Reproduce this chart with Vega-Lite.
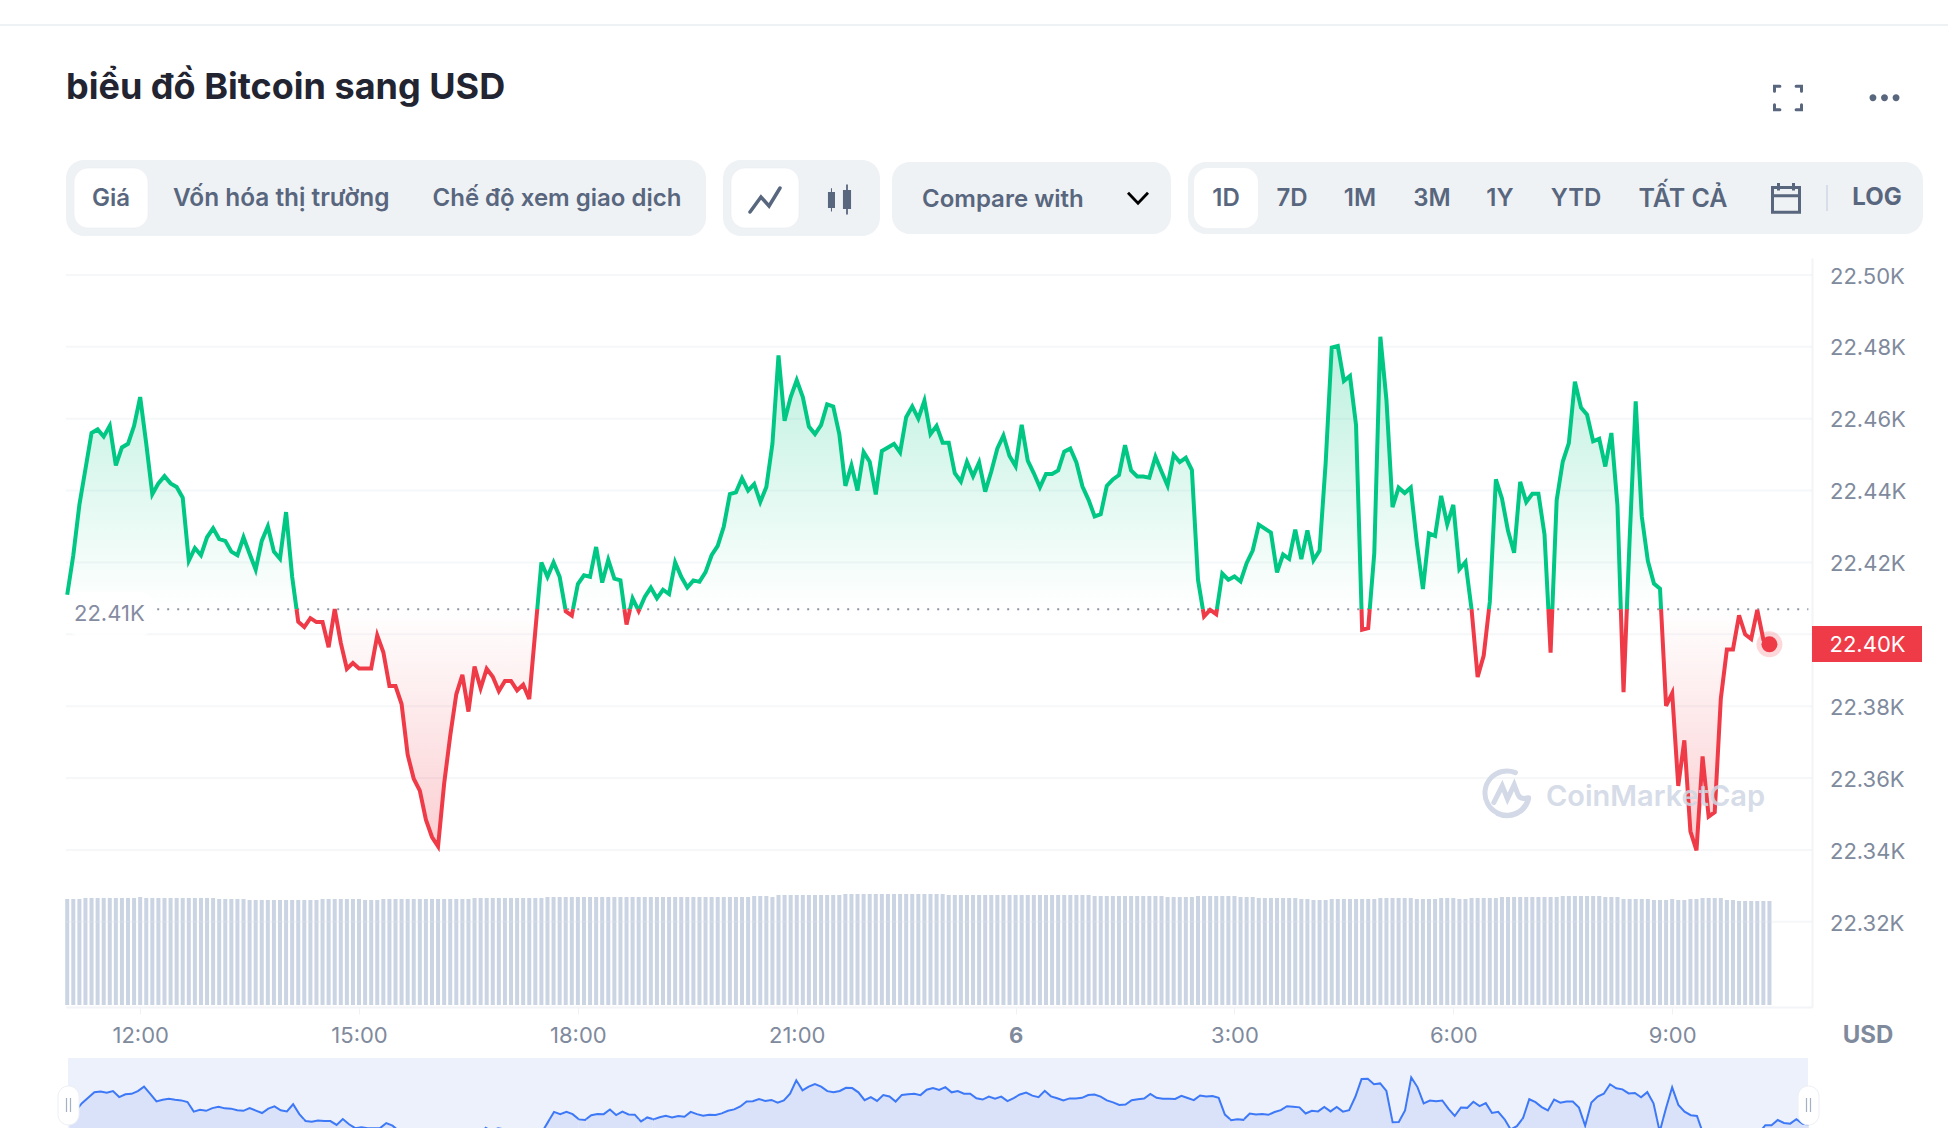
{"$schema":"https://vega.github.io/schema/vega-lite/v6.json","width":1948,"height":1128,"padding":0,"autosize":{"type":"none"},"background":"#ffffff",
"title":{"text":"biểu đồ Bitcoin sang USD","anchor":"start","frame":"group","font":"Inter","fontSize":36,"fontWeight":700,"color":"#222531","dx":66,"dy":135,"offset":0,"baseline":"alphabetic"},
"config":{"view":{"stroke":null},"text":{"font":"Inter"}},
"datasets":{"btc":[
{"t":"2022-08-05T11:00","up":22411,"vol":106},{"t":"2022-08-05T11:05","up":22422,"vol":106},{"t":"2022-08-05T11:10","up":22436,"vol":106},{"t":"2022-08-05T11:15","up":22446,"vol":107},{"t":"2022-08-05T11:20","up":22456,"vol":107},{"t":"2022-08-05T11:25","up":22457,"vol":107},{"t":"2022-08-05T11:30","up":22455,"vol":107},{"t":"2022-08-05T11:35","up":22458,"vol":107},{"t":"2022-08-05T11:40","up":22447,"vol":107},{"t":"2022-08-05T11:45","up":22452,"vol":107},{"t":"2022-08-05T11:50","up":22453,"vol":107},{"t":"2022-08-05T11:55","up":22458,"vol":107},
{"t":"2022-08-05T12:00","up":22466,"vol":108},{"t":"2022-08-05T12:05","up":22453,"vol":107},{"t":"2022-08-05T12:10","up":22439,"vol":107},{"t":"2022-08-05T12:15","up":22442,"vol":107},{"t":"2022-08-05T12:20","up":22444,"vol":107},{"t":"2022-08-05T12:25","up":22442,"vol":107},{"t":"2022-08-05T12:30","up":22441,"vol":107},{"t":"2022-08-05T12:35","up":22438,"vol":107},{"t":"2022-08-05T12:40","up":22420.5,"vol":107},{"t":"2022-08-05T12:45","up":22424,"vol":107},{"t":"2022-08-05T12:50","up":22422,"vol":107},{"t":"2022-08-05T12:55","up":22427,"vol":107},
{"t":"2022-08-05T13:00","up":22429.5,"vol":107},{"t":"2022-08-05T13:05","up":22426.5,"vol":106},{"t":"2022-08-05T13:10","up":22426,"vol":106},{"t":"2022-08-05T13:15","up":22423,"vol":106},{"t":"2022-08-05T13:20","up":22422,"vol":106},{"t":"2022-08-05T13:25","up":22427,"vol":106},{"t":"2022-08-05T13:30","up":22422.4,"vol":105},{"t":"2022-08-05T13:35","up":22418,"vol":105},{"t":"2022-08-05T13:40","up":22426,"vol":105},{"t":"2022-08-05T13:45","up":22430,"vol":105},{"t":"2022-08-05T13:50","up":22423,"vol":105},{"t":"2022-08-05T13:55","up":22421,"vol":105},
{"t":"2022-08-05T14:00","up":22434,"vol":105},{"t":"2022-08-05T14:05","up":22416,"vol":105},{"t":"2022-08-05T14:08:36","up":22407,"down":22407},{"t":"2022-08-05T14:10","down":22403.5,"vol":105},{"t":"2022-08-05T14:15","down":22402,"vol":105},{"t":"2022-08-05T14:20","down":22404.5,"vol":105},{"t":"2022-08-05T14:25","down":22403.4,"vol":105},{"t":"2022-08-05T14:30","down":22403.4,"vol":106},{"t":"2022-08-05T14:35","down":22396.4,"vol":106},{"t":"2022-08-05T14:40","down":22407,"vol":106},{"t":"2022-08-05T14:45","down":22397.6,"vol":106},{"t":"2022-08-05T14:50","down":22390.4,"vol":106},{"t":"2022-08-05T14:55","down":22392,"vol":106},
{"t":"2022-08-05T15:00","down":22390.5,"vol":106},{"t":"2022-08-05T15:05","down":22390.5,"vol":105},{"t":"2022-08-05T15:10","down":22390.5,"vol":105},{"t":"2022-08-05T15:15","down":22399.7,"vol":105},{"t":"2022-08-05T15:20","down":22395,"vol":106},{"t":"2022-08-05T15:25","down":22385.6,"vol":106},{"t":"2022-08-05T15:30","down":22385.6,"vol":106},{"t":"2022-08-05T15:35","down":22380.6,"vol":106},{"t":"2022-08-05T15:40","down":22366.5,"vol":106},{"t":"2022-08-05T15:45","down":22359.8,"vol":106},{"t":"2022-08-05T15:50","down":22356.5,"vol":106},{"t":"2022-08-05T15:55","down":22348.4,"vol":106},
{"t":"2022-08-05T16:00","down":22343.6,"vol":106},{"t":"2022-08-05T16:05","down":22341,"vol":106},{"t":"2022-08-05T16:10","down":22358.4,"vol":106},{"t":"2022-08-05T16:15","down":22371.8,"vol":106},{"t":"2022-08-05T16:20","down":22383.3,"vol":106},{"t":"2022-08-05T16:25","down":22388.7,"vol":106},{"t":"2022-08-05T16:30","down":22378.5,"vol":106},{"t":"2022-08-05T16:35","down":22391,"vol":107},{"t":"2022-08-05T16:40","down":22385,"vol":107},{"t":"2022-08-05T16:45","down":22390.4,"vol":107},{"t":"2022-08-05T16:50","down":22388.2,"vol":107},{"t":"2022-08-05T16:55","down":22384.2,"vol":107},
{"t":"2022-08-05T17:00","down":22387,"vol":107},{"t":"2022-08-05T17:05","down":22387,"vol":107},{"t":"2022-08-05T17:10","down":22384.4,"vol":107},{"t":"2022-08-05T17:15","down":22386,"vol":107},{"t":"2022-08-05T17:20","down":22382,"vol":107},{"t":"2022-08-05T17:25","down":22401,"vol":107},{"t":"2022-08-05T17:26:35","up":22407,"down":22407},{"t":"2022-08-05T17:30","up":22420,"vol":107},{"t":"2022-08-05T17:35","up":22416,"vol":108},{"t":"2022-08-05T17:40","up":22420,"vol":108},{"t":"2022-08-05T17:45","up":22416,"vol":108},{"t":"2022-08-05T17:49:42","up":22407,"down":22407},{"t":"2022-08-05T17:50","down":22406.4,"vol":108},{"t":"2022-08-05T17:55","down":22405.2,"vol":108},{"t":"2022-08-05T17:56","up":22407,"down":22407},
{"t":"2022-08-05T18:00","up":22414,"vol":108},{"t":"2022-08-05T18:05","up":22416.4,"vol":108},{"t":"2022-08-05T18:10","up":22416,"vol":108},{"t":"2022-08-05T18:15","up":22424.3,"vol":108},{"t":"2022-08-05T18:20","up":22414.4,"vol":108},{"t":"2022-08-05T18:25","up":22420.7,"vol":108},{"t":"2022-08-05T18:30","up":22415.5,"vol":108},{"t":"2022-08-05T18:35","up":22415,"vol":108},{"t":"2022-08-05T18:38:15","up":22407,"down":22407},{"t":"2022-08-05T18:40","down":22402.7,"vol":108},{"t":"2022-08-05T18:42:57","up":22407,"down":22407},{"t":"2022-08-05T18:45","up":22410,"vol":108},{"t":"2022-08-05T18:49:18","up":22407,"down":22407},{"t":"2022-08-05T18:50","down":22406.5,"vol":108},{"t":"2022-08-05T18:50:39","up":22407,"down":22407},{"t":"2022-08-05T18:55","up":22410.4,"vol":108},
{"t":"2022-08-05T19:00","up":22413,"vol":108},{"t":"2022-08-05T19:05","up":22410,"vol":108},{"t":"2022-08-05T19:10","up":22412.4,"vol":108},{"t":"2022-08-05T19:15","up":22411.2,"vol":108},{"t":"2022-08-05T19:20","up":22420,"vol":108},{"t":"2022-08-05T19:25","up":22416,"vol":108},{"t":"2022-08-05T19:30","up":22413,"vol":108},{"t":"2022-08-05T19:35","up":22415,"vol":108},{"t":"2022-08-05T19:40","up":22414.6,"vol":108},{"t":"2022-08-05T19:45","up":22417.3,"vol":108},{"t":"2022-08-05T19:50","up":22422,"vol":108},{"t":"2022-08-05T19:55","up":22424.6,"vol":108},
{"t":"2022-08-05T20:00","up":22430,"vol":108},{"t":"2022-08-05T20:05","up":22439,"vol":108},{"t":"2022-08-05T20:10","up":22439.5,"vol":108},{"t":"2022-08-05T20:15","up":22443.4,"vol":108},{"t":"2022-08-05T20:20","up":22440,"vol":108},{"t":"2022-08-05T20:25","up":22441.8,"vol":109},{"t":"2022-08-05T20:30","up":22436.8,"vol":109},{"t":"2022-08-05T20:35","up":22441,"vol":109},{"t":"2022-08-05T20:40","up":22453,"vol":108},{"t":"2022-08-05T20:45","up":22477.6,"vol":110},{"t":"2022-08-05T20:50","up":22459.4,"vol":110},{"t":"2022-08-05T20:55","up":22466,"vol":110},
{"t":"2022-08-05T21:00","up":22470.7,"vol":110},{"t":"2022-08-05T21:05","up":22466,"vol":110},{"t":"2022-08-05T21:10","up":22457.8,"vol":110},{"t":"2022-08-05T21:15","up":22455.7,"vol":110},{"t":"2022-08-05T21:20","up":22458.2,"vol":110},{"t":"2022-08-05T21:25","up":22464,"vol":110},{"t":"2022-08-05T21:30","up":22463.4,"vol":110},{"t":"2022-08-05T21:35","up":22455.7,"vol":110},{"t":"2022-08-05T21:40","up":22441.3,"vol":111},{"t":"2022-08-05T21:45","up":22447,"vol":111},{"t":"2022-08-05T21:50","up":22440,"vol":111},{"t":"2022-08-05T21:55","up":22450.7,"vol":111},
{"t":"2022-08-05T22:00","up":22448,"vol":111},{"t":"2022-08-05T22:05","up":22438.9,"vol":111},{"t":"2022-08-05T22:10","up":22451,"vol":111},{"t":"2022-08-05T22:15","up":22452,"vol":111},{"t":"2022-08-05T22:20","up":22453,"vol":111},{"t":"2022-08-05T22:25","up":22450.6,"vol":111},{"t":"2022-08-05T22:30","up":22460.4,"vol":111},{"t":"2022-08-05T22:35","up":22463.4,"vol":111},{"t":"2022-08-05T22:40","up":22460,"vol":111},{"t":"2022-08-05T22:45","up":22465,"vol":111},{"t":"2022-08-05T22:50","up":22455.7,"vol":111},{"t":"2022-08-05T22:55","up":22458,"vol":111},
{"t":"2022-08-05T23:00","up":22453.3,"vol":111},{"t":"2022-08-05T23:05","up":22453.3,"vol":110},{"t":"2022-08-05T23:10","up":22444.8,"vol":110},{"t":"2022-08-05T23:15","up":22442.5,"vol":110},{"t":"2022-08-05T23:20","up":22448,"vol":110},{"t":"2022-08-05T23:25","up":22444,"vol":110},{"t":"2022-08-05T23:30","up":22447.8,"vol":110},{"t":"2022-08-05T23:35","up":22439.7,"vol":110},{"t":"2022-08-05T23:40","up":22445.3,"vol":110},{"t":"2022-08-05T23:45","up":22451.7,"vol":110},{"t":"2022-08-05T23:50","up":22455.3,"vol":110},{"t":"2022-08-05T23:55","up":22449.6,"vol":110},
{"t":"2022-08-06T00:00","up":22446.8,"vol":110},{"t":"2022-08-06T00:05","up":22458.3,"vol":110},{"t":"2022-08-06T00:10","up":22448.3,"vol":110},{"t":"2022-08-06T00:15","up":22444.8,"vol":110},{"t":"2022-08-06T00:20","up":22440.9,"vol":110},{"t":"2022-08-06T00:25","up":22444.6,"vol":110},{"t":"2022-08-06T00:30","up":22444.6,"vol":110},{"t":"2022-08-06T00:35","up":22445.6,"vol":110},{"t":"2022-08-06T00:40","up":22450.8,"vol":110},{"t":"2022-08-06T00:45","up":22451.7,"vol":110},{"t":"2022-08-06T00:50","up":22447.8,"vol":110},{"t":"2022-08-06T00:55","up":22441.1,"vol":110},
{"t":"2022-08-06T01:00","up":22437.4,"vol":110},{"t":"2022-08-06T01:05","up":22432.8,"vol":109},{"t":"2022-08-06T01:10","up":22433.4,"vol":109},{"t":"2022-08-06T01:15","up":22441.3,"vol":109},{"t":"2022-08-06T01:20","up":22443.1,"vol":109},{"t":"2022-08-06T01:25","up":22444.3,"vol":109},{"t":"2022-08-06T01:30","up":22452.6,"vol":109},{"t":"2022-08-06T01:35","up":22445.6,"vol":109},{"t":"2022-08-06T01:40","up":22443.9,"vol":109},{"t":"2022-08-06T01:45","up":22443.9,"vol":109},{"t":"2022-08-06T01:50","up":22443.6,"vol":109},{"t":"2022-08-06T01:55","up":22449.4,"vol":109},
{"t":"2022-08-06T02:00","up":22445.3,"vol":109},{"t":"2022-08-06T02:05","up":22441.4,"vol":108},{"t":"2022-08-06T02:10","up":22449.9,"vol":108},{"t":"2022-08-06T02:15","up":22447.9,"vol":108},{"t":"2022-08-06T02:20","up":22449.1,"vol":108},{"t":"2022-08-06T02:25","up":22445.7,"vol":108},{"t":"2022-08-06T02:30","up":22415.2,"vol":109},{"t":"2022-08-06T02:34","up":22407,"down":22407},{"t":"2022-08-06T02:35","down":22405,"vol":109},{"t":"2022-08-06T02:40","down":22406.8,"vol":109},{"t":"2022-08-06T02:45","down":22405.6,"vol":109},{"t":"2022-08-06T02:45:36","up":22407,"down":22407},{"t":"2022-08-06T02:50","up":22416.9,"vol":109},{"t":"2022-08-06T02:55","up":22415.2,"vol":109},
{"t":"2022-08-06T03:00","up":22416.1,"vol":109},{"t":"2022-08-06T03:05","up":22414.7,"vol":108},{"t":"2022-08-06T03:10","up":22419.8,"vol":108},{"t":"2022-08-06T03:15","up":22423.3,"vol":108},{"t":"2022-08-06T03:20","up":22430.5,"vol":107},{"t":"2022-08-06T03:25","up":22429.4,"vol":107},{"t":"2022-08-06T03:30","up":22428.3,"vol":107},{"t":"2022-08-06T03:35","up":22417.2,"vol":107},{"t":"2022-08-06T03:40","up":22422.2,"vol":107},{"t":"2022-08-06T03:45","up":22421,"vol":107},{"t":"2022-08-06T03:50","up":22429.1,"vol":107},{"t":"2022-08-06T03:55","up":22420.9,"vol":106},
{"t":"2022-08-06T04:00","up":22428.9,"vol":106},{"t":"2022-08-06T04:05","up":22420.6,"vol":105},{"t":"2022-08-06T04:10","up":22423.3,"vol":105},{"t":"2022-08-06T04:15","up":22447.6,"vol":105},{"t":"2022-08-06T04:20","up":22479.8,"vol":106},{"t":"2022-08-06T04:25","up":22480.2,"vol":106},{"t":"2022-08-06T04:30","up":22470.5,"vol":106},{"t":"2022-08-06T04:35","up":22471.9,"vol":106},{"t":"2022-08-06T04:40","up":22458.2,"vol":106},{"t":"2022-08-06T04:44:30","up":22407,"down":22407},{"t":"2022-08-06T04:45","down":22401.3,"vol":106},{"t":"2022-08-06T04:50","down":22401.7,"vol":106},{"t":"2022-08-06T04:51:16","up":22407,"down":22407},{"t":"2022-08-06T04:55","up":22422.6,"vol":106},
{"t":"2022-08-06T05:00","up":22482.8,"vol":107},{"t":"2022-08-06T05:05","up":22465.2,"vol":107},{"t":"2022-08-06T05:10","up":22435.4,"vol":107},{"t":"2022-08-06T05:15","up":22440.8,"vol":107},{"t":"2022-08-06T05:20","up":22439.3,"vol":107},{"t":"2022-08-06T05:25","up":22440.8,"vol":107},{"t":"2022-08-06T05:30","up":22425.4,"vol":106},{"t":"2022-08-06T05:35","up":22412.6,"vol":106},{"t":"2022-08-06T05:40","up":22428.1,"vol":106},{"t":"2022-08-06T05:45","up":22427.4,"vol":106},{"t":"2022-08-06T05:50","up":22438.5,"vol":107},{"t":"2022-08-06T05:55","up":22430.6,"vol":107},
{"t":"2022-08-06T06:00","up":22436,"vol":107},{"t":"2022-08-06T06:05","up":22418.1,"vol":106},{"t":"2022-08-06T06:10","up":22420.1,"vol":106},{"t":"2022-08-06T06:15","up":22407,"down":22407,"vol":107},{"t":"2022-08-06T06:20","down":22388.1,"vol":107},{"t":"2022-08-06T06:25","down":22394.1,"vol":107},{"t":"2022-08-06T06:29:20","up":22407,"down":22407},{"t":"2022-08-06T06:30","up":22409,"vol":107},{"t":"2022-08-06T06:35","up":22443.1,"vol":107},{"t":"2022-08-06T06:40","up":22437.8,"vol":108},{"t":"2022-08-06T06:45","up":22428.8,"vol":108},{"t":"2022-08-06T06:50","up":22422.7,"vol":108},{"t":"2022-08-06T06:55","up":22442.4,"vol":108},
{"t":"2022-08-06T07:00","up":22436.8,"vol":108},{"t":"2022-08-06T07:05","up":22439.1,"vol":108},{"t":"2022-08-06T07:10","up":22439.1,"vol":108},{"t":"2022-08-06T07:15","up":22427.8,"vol":108},{"t":"2022-08-06T07:18:10","up":22407,"down":22407},{"t":"2022-08-06T07:20","down":22394.9,"vol":108},{"t":"2022-08-06T07:21:26","up":22407,"down":22407},{"t":"2022-08-06T07:25","up":22437.3,"vol":108},{"t":"2022-08-06T07:30","up":22448,"vol":109},{"t":"2022-08-06T07:35","up":22453.2,"vol":109},{"t":"2022-08-06T07:40","up":22470.3,"vol":109},{"t":"2022-08-06T07:45","up":22463.1,"vol":109},{"t":"2022-08-06T07:50","up":22461.1,"vol":109},{"t":"2022-08-06T07:55","up":22453.7,"vol":109},
{"t":"2022-08-06T08:00","up":22454.4,"vol":109},{"t":"2022-08-06T08:05","up":22446.7,"vol":108},{"t":"2022-08-06T08:10","up":22456,"vol":108},{"t":"2022-08-06T08:15","up":22435.8,"vol":108},{"t":"2022-08-06T08:17:46","up":22407,"down":22407},{"t":"2022-08-06T08:20","down":22383.9,"vol":106},{"t":"2022-08-06T08:22:43","up":22407,"down":22407},{"t":"2022-08-06T08:25","up":22426.3,"vol":106},{"t":"2022-08-06T08:30","up":22464.8,"vol":106},{"t":"2022-08-06T08:35","up":22432.8,"vol":106},{"t":"2022-08-06T08:40","up":22420.4,"vol":106},{"t":"2022-08-06T08:45","up":22414.1,"vol":105},{"t":"2022-08-06T08:50","up":22412.7,"vol":105},{"t":"2022-08-06T08:50:52","up":22407,"down":22407},{"t":"2022-08-06T08:55","down":22380.1,"vol":105},
{"t":"2022-08-06T09:00","down":22383.6,"vol":106},{"t":"2022-08-06T09:05","down":22357.8,"vol":105},{"t":"2022-08-06T09:10","down":22370.5,"vol":105},{"t":"2022-08-06T09:15","down":22345.2,"vol":106},{"t":"2022-08-06T09:20","down":22339.9,"vol":106},{"t":"2022-08-06T09:25","down":22366,"vol":107},{"t":"2022-08-06T09:30","down":22349.3,"vol":107},{"t":"2022-08-06T09:35","down":22350.5,"vol":107},{"t":"2022-08-06T09:40","down":22382.1,"vol":107},{"t":"2022-08-06T09:45","down":22395.8,"vol":105},{"t":"2022-08-06T09:50","down":22395.8,"vol":105},{"t":"2022-08-06T09:55","down":22405.3,"vol":104},
{"t":"2022-08-06T10:00","down":22400,"vol":104},{"t":"2022-08-06T10:05","down":22398.7,"vol":104},{"t":"2022-08-06T10:10","down":22406.8,"vol":104},{"t":"2022-08-06T10:15","down":22398.5,"vol":104},{"t":"2022-08-06T10:20","down":22397.2,"vol":104}
],"grid":[{"price":22320},{"price":22340},{"price":22360},{"price":22380},{"price":22400},{"price":22420},{"price":22440},{"price":22460},{"price":22480},{"price":22500}],"last":[{"t":"2022-08-06T10:20","price":22397.2}]},
"layer":[
{"layer":[
{"mark":{"type":"rule","color":"#eff2f5","strokeWidth":2},"data":{"values":[{}]},"encoding":{"x":{"datum":0,"type":"quantitative","scale":{"domain":[0,1948],"nice":false},"axis":null},"x2":{"datum":1948},"y":{"datum":25,"type":"quantitative","scale":{"domain":[1128,0],"nice":false},"axis":null}}},
{"data":{"values":[{"pill":"metric"}]},"mark":{"type":"rect","fill":"#eff2f5","cornerRadius":18},"encoding":{"x":{"datum":66,"type":"quantitative","scale":{"domain":[0,1948],"nice":false},"axis":null},"x2":{"datum":706},"y":{"datum":160,"type":"quantitative","scale":{"domain":[1128,0],"nice":false},"axis":null},"y2":{"datum":236}}},
{"data":{"values":[{"pill":"kind"}]},"mark":{"type":"rect","fill":"#eff2f5","cornerRadius":18},"encoding":{"x":{"datum":723,"type":"quantitative","scale":{"domain":[0,1948],"nice":false},"axis":null},"x2":{"datum":880},"y":{"datum":160,"type":"quantitative","scale":{"domain":[1128,0],"nice":false},"axis":null},"y2":{"datum":236}}},
{"data":{"values":[{"pill":"compare"}]},"mark":{"type":"rect","fill":"#eff2f5","cornerRadius":18},"encoding":{"x":{"datum":892,"type":"quantitative","scale":{"domain":[0,1948],"nice":false},"axis":null},"x2":{"datum":1171},"y":{"datum":162,"type":"quantitative","scale":{"domain":[1128,0],"nice":false},"axis":null},"y2":{"datum":234}}},
{"data":{"values":[{"pill":"range"}]},"mark":{"type":"rect","fill":"#eff2f5","cornerRadius":18},"encoding":{"x":{"datum":1188,"type":"quantitative","scale":{"domain":[0,1948],"nice":false},"axis":null},"x2":{"datum":1923},"y":{"datum":162,"type":"quantitative","scale":{"domain":[1128,0],"nice":false},"axis":null},"y2":{"datum":234}}},
{"data":{"values":[{"pill":"Giá"}]},"mark":{"type":"rect","fill":"#ffffff","cornerRadius":14,"stroke":"#e6e9ee","strokeWidth":0.5},"encoding":{"x":{"datum":74,"type":"quantitative","scale":{"domain":[0,1948],"nice":false},"axis":null},"x2":{"datum":148},"y":{"datum":168,"type":"quantitative","scale":{"domain":[1128,0],"nice":false},"axis":null},"y2":{"datum":228}}},
{"data":{"values":[{"pill":"line"}]},"mark":{"type":"rect","fill":"#ffffff","cornerRadius":14,"stroke":"#e6e9ee","strokeWidth":0.5},"encoding":{"x":{"datum":731,"type":"quantitative","scale":{"domain":[0,1948],"nice":false},"axis":null},"x2":{"datum":799},"y":{"datum":168,"type":"quantitative","scale":{"domain":[1128,0],"nice":false},"axis":null},"y2":{"datum":228}}},
{"data":{"values":[{"pill":"1D"}]},"mark":{"type":"rect","fill":"#ffffff","cornerRadius":14},"encoding":{"x":{"datum":1194,"type":"quantitative","scale":{"domain":[0,1948],"nice":false},"axis":null},"x2":{"datum":1258},"y":{"datum":168,"type":"quantitative","scale":{"domain":[1128,0],"nice":false},"axis":null},"y2":{"datum":228}}},
{"data":{"values":[{"label":"Giá"}]},"mark":{"type":"text","font":"Inter","fontSize":24,"fontWeight":600,"color":"#58667e","align":"center","baseline":"middle"},"encoding":{"text":{"field":"label"},"x":{"datum":111,"type":"quantitative","scale":{"domain":[0,1948],"nice":false},"axis":null},"y":{"datum":199,"type":"quantitative","scale":{"domain":[1128,0],"nice":false},"axis":null}}},
{"data":{"values":[{"label":"Vốn hóa thị trường"}]},"mark":{"type":"text","font":"Inter","fontSize":24.4,"fontWeight":600,"color":"#58667e","align":"left","baseline":"middle"},"encoding":{"text":{"field":"label"},"x":{"datum":173,"type":"quantitative","scale":{"domain":[0,1948],"nice":false},"axis":null},"y":{"datum":199,"type":"quantitative","scale":{"domain":[1128,0],"nice":false},"axis":null}}},
{"data":{"values":[{"label":"Chế độ xem giao dịch"}]},"mark":{"type":"text","font":"Inter","fontSize":24,"fontWeight":600,"color":"#58667e","align":"left","baseline":"middle"},"encoding":{"text":{"field":"label"},"x":{"datum":432.5,"type":"quantitative","scale":{"domain":[0,1948],"nice":false},"axis":null},"y":{"datum":199,"type":"quantitative","scale":{"domain":[1128,0],"nice":false},"axis":null}}},
{"data":{"values":[{"label":"Compare with"}]},"mark":{"type":"text","font":"Inter","fontSize":24,"fontWeight":600,"color":"#58667e","align":"left","baseline":"middle"},"encoding":{"text":{"field":"label"},"x":{"datum":922,"type":"quantitative","scale":{"domain":[0,1948],"nice":false},"axis":null},"y":{"datum":200,"type":"quantitative","scale":{"domain":[1128,0],"nice":false},"axis":null}}},
{"data":{"values":[{"label":"1D"}]},"mark":{"type":"text","font":"Inter","fontSize":24,"fontWeight":600,"color":"#58667e","align":"center","baseline":"middle"},"encoding":{"text":{"field":"label"},"x":{"datum":1226,"type":"quantitative","scale":{"domain":[0,1948],"nice":false},"axis":null},"y":{"datum":199,"type":"quantitative","scale":{"domain":[1128,0],"nice":false},"axis":null}}},
{"data":{"values":[{"label":"7D"}]},"mark":{"type":"text","font":"Inter","fontSize":24,"fontWeight":600,"color":"#58667e","align":"center","baseline":"middle"},"encoding":{"text":{"field":"label"},"x":{"datum":1292,"type":"quantitative","scale":{"domain":[0,1948],"nice":false},"axis":null},"y":{"datum":199,"type":"quantitative","scale":{"domain":[1128,0],"nice":false},"axis":null}}},
{"data":{"values":[{"label":"1M"}]},"mark":{"type":"text","font":"Inter","fontSize":24,"fontWeight":600,"color":"#58667e","align":"center","baseline":"middle"},"encoding":{"text":{"field":"label"},"x":{"datum":1360,"type":"quantitative","scale":{"domain":[0,1948],"nice":false},"axis":null},"y":{"datum":199,"type":"quantitative","scale":{"domain":[1128,0],"nice":false},"axis":null}}},
{"data":{"values":[{"label":"3M"}]},"mark":{"type":"text","font":"Inter","fontSize":24,"fontWeight":600,"color":"#58667e","align":"center","baseline":"middle"},"encoding":{"text":{"field":"label"},"x":{"datum":1432,"type":"quantitative","scale":{"domain":[0,1948],"nice":false},"axis":null},"y":{"datum":199,"type":"quantitative","scale":{"domain":[1128,0],"nice":false},"axis":null}}},
{"data":{"values":[{"label":"1Y"}]},"mark":{"type":"text","font":"Inter","fontSize":24,"fontWeight":600,"color":"#58667e","align":"center","baseline":"middle"},"encoding":{"text":{"field":"label"},"x":{"datum":1500,"type":"quantitative","scale":{"domain":[0,1948],"nice":false},"axis":null},"y":{"datum":199,"type":"quantitative","scale":{"domain":[1128,0],"nice":false},"axis":null}}},
{"data":{"values":[{"label":"YTD"}]},"mark":{"type":"text","font":"Inter","fontSize":24,"fontWeight":600,"color":"#58667e","align":"center","baseline":"middle"},"encoding":{"text":{"field":"label"},"x":{"datum":1576,"type":"quantitative","scale":{"domain":[0,1948],"nice":false},"axis":null},"y":{"datum":199,"type":"quantitative","scale":{"domain":[1128,0],"nice":false},"axis":null}}},
{"data":{"values":[{"label":"TẤT CẢ"}]},"mark":{"type":"text","font":"Inter","fontSize":25,"fontWeight":600,"color":"#58667e","align":"center","baseline":"middle"},"encoding":{"text":{"field":"label"},"x":{"datum":1683,"type":"quantitative","scale":{"domain":[0,1948],"nice":false},"axis":null},"y":{"datum":199,"type":"quantitative","scale":{"domain":[1128,0],"nice":false},"axis":null}}},
{"data":{"values":[{"label":"LOG"}]},"mark":{"type":"text","font":"Inter","fontSize":24,"fontWeight":700,"color":"#58667e","align":"center","baseline":"middle"},"encoding":{"text":{"field":"label"},"x":{"datum":1877,"type":"quantitative","scale":{"domain":[0,1948],"nice":false},"axis":null},"y":{"datum":198,"type":"quantitative","scale":{"domain":[1128,0],"nice":false},"axis":null}}},
{"data":{"values":[{"icon":"divider"}]},"mark":{"type":"rule","color":"#cfd6e4","strokeWidth":1.5},"encoding":{"x":{"datum":1827,"type":"quantitative","scale":{"domain":[0,1948],"nice":false},"axis":null},"y":{"datum":185,"type":"quantitative","scale":{"domain":[1128,0],"nice":false},"axis":null},"y2":{"datum":211}}},
{"data":{"values":[{"icon":"line"}]},"mark":{"type":"point","shape":"M-1,0.8 L-0.27,-0.2 L0.27,0.4 L1,-0.8","size":900,"filled":false,"stroke":"#58667e","strokeWidth":3.5,"strokeCap":"round","opacity":1},"encoding":{"x":{"datum":765,"type":"quantitative","scale":{"domain":[0,1948],"nice":false},"axis":null},"y":{"datum":200,"type":"quantitative","scale":{"domain":[1128,0],"nice":false},"axis":null}}},
{"data":{"values":[{"icon":"candles"}]},"mark":{"type":"point","shape":"M-0.77,-0.5 H-0.3 V0.57 H-0.77 Z M-0.57,-0.75 H-0.5 V0.8 H-0.57 Z M0.23,-0.63 H0.77 V0.63 H0.23 Z M0.44,-1 H0.56 V1 H0.44 Z","size":900,"filled":true,"fill":"#58667e","stroke":null,"opacity":1},"encoding":{"x":{"datum":839.5,"type":"quantitative","scale":{"domain":[0,1948],"nice":false},"axis":null},"y":{"datum":199.5,"type":"quantitative","scale":{"domain":[1128,0],"nice":false},"axis":null}}},
{"data":{"values":[{"icon":"fullscreen"}]},"mark":{"type":"point","shape":"M-1,-0.5 V-0.87 H-0.6 M0.6,-0.87 H1 V-0.5 M1,0.5 V0.87 H0.6 M-0.6,0.87 H-1 V0.5","size":729,"filled":false,"stroke":"#58667e","strokeWidth":3,"strokeCap":"round","opacity":1},"encoding":{"x":{"datum":1788,"type":"quantitative","scale":{"domain":[0,1948],"nice":false},"axis":null},"y":{"datum":98,"type":"quantitative","scale":{"domain":[1128,0],"nice":false},"axis":null}}},
{"data":{"values":[{"icon":"more"}]},"mark":{"type":"point","shape":"M-1,0 A0.23,0.23 0 1 0 -0.54,0 A0.23,0.23 0 1 0 -1,0 Z M-0.23,0 A0.23,0.23 0 1 0 0.23,0 A0.23,0.23 0 1 0 -0.23,0 Z M0.54,0 A0.23,0.23 0 1 0 1,0 A0.23,0.23 0 1 0 0.54,0 Z","size":900,"filled":true,"fill":"#58667e","stroke":null,"opacity":1},"encoding":{"x":{"datum":1884.5,"type":"quantitative","scale":{"domain":[0,1948],"nice":false},"axis":null},"y":{"datum":97.7,"type":"quantitative","scale":{"domain":[1128,0],"nice":false},"axis":null}}},
{"data":{"values":[{"icon":"chevron"}]},"mark":{"type":"point","shape":"M-1,-0.53 L0,0.53 L1,-0.53","size":400,"filled":false,"stroke":"#000000","strokeWidth":2.8,"opacity":1},"encoding":{"x":{"datum":1138,"type":"quantitative","scale":{"domain":[0,1948],"nice":false},"axis":null},"y":{"datum":198,"type":"quantitative","scale":{"domain":[1128,0],"nice":false},"axis":null}}},
{"data":{"values":[{"icon":"calendar"}]},"mark":{"type":"point","shape":"M-0.9,-0.7 H0.9 V0.95 H-0.9 Z M-0.9,-0.15 H0.9 M-0.5,-1 V-0.5 M0.5,-1 V-0.5","size":900,"filled":false,"stroke":"#58667e","strokeWidth":3,"opacity":1},"encoding":{"x":{"datum":1786,"type":"quantitative","scale":{"domain":[0,1948],"nice":false},"axis":null},"y":{"datum":198,"type":"quantitative","scale":{"domain":[1128,0],"nice":false},"axis":null}}}
]},
{"data":{"name":"btc"},"mark":{"type":"bar","size":4,"color":"#cad4e3"},"encoding":{"x":{"field":"t","type":"temporal","scale":{"domain":[{"year":2022,"month":8,"date":5,"hours":10,"minutes":59},{"year":2022,"month":8,"date":6,"hours":10,"minutes":55}],"range":[66,1812],"nice":false,"padding":0},"axis":null},"y":{"field":"vol","type":"quantitative","stack":null,"scale":{"domain":[0,111],"range":[1005,894],"nice":false},"axis":null}}},
{"layer":[
{"data":{"name":"grid"},"mark":{"type":"rule","color":"#dfe3ea","strokeWidth":2,"opacity":0.3},"encoding":{"x":{"datum":{"year":2022,"month":8,"date":5,"hours":10,"minutes":59},"type":"temporal","scale":{"domain":[{"year":2022,"month":8,"date":5,"hours":10,"minutes":59},{"year":2022,"month":8,"date":6,"hours":10,"minutes":55}],"range":[66,1812],"nice":false}},"x2":{"datum":{"year":2022,"month":8,"date":6,"hours":10,"minutes":55}},"y":{"field":"price","type":"quantitative","scale":{"domain":[22296.3,22504.7],"range":[1007,258],"nice":false,"zero":false}}}},
{"data":{"name":"btc"},"mark":{"type":"area","fill":{"x1":0,"y1":0,"x2":0,"y2":1,"gradient":"linear","stops":[{"offset":0,"color":"rgba(0,199,131,0.27)"},{"offset":1,"color":"rgba(0,199,131,0)"}]}},"encoding":{"x":{"field":"t","type":"temporal","scale":{"domain":[{"year":2022,"month":8,"date":5,"hours":10,"minutes":59},{"year":2022,"month":8,"date":6,"hours":10,"minutes":55}],"range":[66,1812],"nice":false}},"y":{"field":"up","type":"quantitative","scale":{"domain":[22296.3,22504.7],"range":[1007,258],"nice":false,"zero":false}},"y2":{"datum":22407}}},
{"data":{"name":"btc"},"mark":{"type":"area","fill":{"x1":0,"y1":0,"x2":0,"y2":1,"gradient":"linear","stops":[{"offset":0,"color":"rgba(239,58,71,0)"},{"offset":1,"color":"rgba(239,58,71,0.25)"}]}},"encoding":{"x":{"field":"t","type":"temporal","scale":{"domain":[{"year":2022,"month":8,"date":5,"hours":10,"minutes":59},{"year":2022,"month":8,"date":6,"hours":10,"minutes":55}],"range":[66,1812],"nice":false}},"y":{"field":"down","type":"quantitative","scale":{"domain":[22296.3,22504.7],"range":[1007,258],"nice":false,"zero":false}},"y2":{"datum":22407}}},
{"data":{"values":[{"series":"open"}]},"mark":{"type":"rule","color":"#8d94a3","strokeWidth":2,"strokeDash":[2,8]},"encoding":{"x":{"datum":{"year":2022,"month":8,"date":5,"hours":12,"minutes":14},"type":"temporal","scale":{"domain":[{"year":2022,"month":8,"date":5,"hours":10,"minutes":59},{"year":2022,"month":8,"date":6,"hours":10,"minutes":55}],"range":[66,1812],"nice":false}},"x2":{"datum":{"year":2022,"month":8,"date":6,"hours":10,"minutes":52}},"y":{"datum":22407,"type":"quantitative","scale":{"domain":[22296.3,22504.7],"range":[1007,258],"nice":false,"zero":false}}}},
{"data":{"name":"btc"},"mark":{"type":"line","color":"#00c783","strokeWidth":4},"encoding":{"x":{"field":"t","type":"temporal","scale":{"domain":[{"year":2022,"month":8,"date":5,"hours":10,"minutes":59},{"year":2022,"month":8,"date":6,"hours":10,"minutes":55}],"range":[66,1812],"nice":false},"axis":{"values":[{"year":2022,"month":8,"date":5,"hours":12},{"year":2022,"month":8,"date":5,"hours":15},{"year":2022,"month":8,"date":5,"hours":18},{"year":2022,"month":8,"date":5,"hours":21},{"year":2022,"month":8,"date":6,"hours":0},{"year":2022,"month":8,"date":6,"hours":3},{"year":2022,"month":8,"date":6,"hours":6},{"year":2022,"month":8,"date":6,"hours":9}],"labelExpr":"hours(datum.value)==0?''+date(datum.value):timeFormat(datum.value,'%-H:%M')","labelFontWeight":{"condition":{"test":"hours(datum.value)==0","value":"bold"},"value":"normal"},"offset":-121,"orient":"bottom","tickSize":7,"tickColor":"#eff2f5","tickWidth":1,"domainColor":"#f3f4f7","domainWidth":2,"labelColor":"#808a9d","labelFont":"Inter","labelFontSize":22,"labelPadding":11,"title":null,"grid":false,"labelOverlap":false}},"y":{"field":"up","type":"quantitative","scale":{"domain":[22296.3,22504.7],"range":[1007,258],"nice":false,"zero":false},"axis":{"orient":"right","values":[22320,22340,22360,22380,22420,22440,22460,22480,22500],"labelExpr":"format(datum.value/1000,'.2f')+'K'","offset":-136,"ticks":false,"domainColor":"#f3f4f7","domainWidth":2,"labelColor":"#808a9d","labelFont":"Inter","labelFontSize":22,"labelPadding":17.5,"labelOffset":1.2,"labelAlign":"left","title":null,"grid":false,"labelOverlap":false}}}},
{"data":{"name":"btc"},"mark":{"type":"line","color":"#ef3a47","strokeWidth":4},"encoding":{"x":{"field":"t","type":"temporal","scale":{"domain":[{"year":2022,"month":8,"date":5,"hours":10,"minutes":59},{"year":2022,"month":8,"date":6,"hours":10,"minutes":55}],"range":[66,1812],"nice":false}},"y":{"field":"down","type":"quantitative","scale":{"domain":[22296.3,22504.7],"range":[1007,258],"nice":false,"zero":false}}}},
{"data":{"name":"last"},"mark":{"type":"point","shape":"circle","filled":true,"color":"#ef3a47","size":676,"opacity":0.2},"encoding":{"x":{"field":"t","type":"temporal","scale":{"domain":[{"year":2022,"month":8,"date":5,"hours":10,"minutes":59},{"year":2022,"month":8,"date":6,"hours":10,"minutes":55}],"range":[66,1812],"nice":false}},"y":{"field":"price","type":"quantitative","scale":{"domain":[22296.3,22504.7],"range":[1007,258],"nice":false,"zero":false}}}},
{"data":{"name":"last"},"mark":{"type":"point","shape":"circle","filled":true,"color":"#ef3a47","size":256,"opacity":1},"encoding":{"x":{"field":"t","type":"temporal","scale":{"domain":[{"year":2022,"month":8,"date":5,"hours":10,"minutes":59},{"year":2022,"month":8,"date":6,"hours":10,"minutes":55}],"range":[66,1812],"nice":false}},"y":{"field":"price","type":"quantitative","scale":{"domain":[22296.3,22504.7],"range":[1007,258],"nice":false,"zero":false}}}}
]},
{"data":{"values":[{"panel":"navigator"}]},"mark":{"type":"rect","fill":"#edf1fc"},"encoding":{"x":{"datum":68,"type":"quantitative","scale":{"domain":[0,1948],"nice":false},"axis":null},"x2":{"datum":1808},"y":{"datum":1058,"type":"quantitative","scale":{"domain":[1128,0],"nice":false},"axis":null},"y2":{"datum":1128}}},
{"layer":[
{"data":{"name":"btc"},"mark":{"type":"area","fill":"#dae2fa"},"encoding":{"x":{"field":"t","type":"temporal","scale":{"domain":[{"year":2022,"month":8,"date":5,"hours":11},{"year":2022,"month":8,"date":6,"hours":10,"minutes":20}],"range":[69.5,1808.8],"nice":false},"axis":{"orient":"bottom","values":[{"year":2022,"month":8,"date":5,"hours":12},{"year":2022,"month":8,"date":5,"hours":15},{"year":2022,"month":8,"date":5,"hours":18},{"year":2022,"month":8,"date":5,"hours":21},{"year":2022,"month":8,"date":6,"hours":0},{"year":2022,"month":8,"date":6,"hours":3},{"year":2022,"month":8,"date":6,"hours":6},{"year":2022,"month":8,"date":6,"hours":9}],"labelExpr":"hours(datum.value)==0?''+date(datum.value):timeFormat(datum.value,'%-H:%M')","tickSize":-70,"tickColor":"#dfe5f3","tickWidth":2,"domain":false,"labelColor":"#808a9d","labelFont":"Inter","labelFontSize":22,"labelPadding":63,"title":null,"grid":false,"labelOverlap":false}},"y":{"field":"up","type":"quantitative","scale":{"domain":[22340,22483],"range":[1155.9,1077.3],"nice":false,"zero":false},"axis":null},"y2":{"datum":22280}}},
{"data":{"name":"btc"},"mark":{"type":"area","fill":"#dae2fa"},"encoding":{"x":{"field":"t","type":"temporal","scale":{"domain":[{"year":2022,"month":8,"date":5,"hours":11},{"year":2022,"month":8,"date":6,"hours":10,"minutes":20}],"range":[69.5,1808.8],"nice":false}},"y":{"field":"down","type":"quantitative","scale":{"domain":[22340,22483],"range":[1155.9,1077.3],"nice":false,"zero":false},"axis":null},"y2":{"datum":22280}}},
{"data":{"name":"btc"},"mark":{"type":"line","color":"#3d78f7","strokeWidth":2},"encoding":{"x":{"field":"t","type":"temporal","scale":{"domain":[{"year":2022,"month":8,"date":5,"hours":11},{"year":2022,"month":8,"date":6,"hours":10,"minutes":20}],"range":[69.5,1808.8],"nice":false}},"y":{"field":"up","type":"quantitative","scale":{"domain":[22340,22483],"range":[1155.9,1077.3],"nice":false,"zero":false},"axis":null}}},
{"data":{"name":"btc"},"mark":{"type":"line","color":"#3d78f7","strokeWidth":2},"encoding":{"x":{"field":"t","type":"temporal","scale":{"domain":[{"year":2022,"month":8,"date":5,"hours":11},{"year":2022,"month":8,"date":6,"hours":10,"minutes":20}],"range":[69.5,1808.8],"nice":false}},"y":{"field":"down","type":"quantitative","scale":{"domain":[22340,22483],"range":[1155.9,1077.3],"nice":false,"zero":false},"axis":null}}}
]},
{"layer":[
{"data":{"values":[{"badge":"22.41K"}]},"mark":{"type":"rect","fill":"#ffffff","opacity":0.85,"cornerRadius":14},"encoding":{"x":{"datum":66,"type":"quantitative","scale":{"domain":[0,1948],"nice":false},"axis":null},"x2":{"datum":154},"y":{"datum":592,"type":"quantitative","scale":{"domain":[1128,0],"nice":false},"axis":null},"y2":{"datum":636}}},
{"data":{"values":[{"label":"22.41K"}]},"mark":{"type":"text","font":"Inter","fontSize":22,"color":"#858ca2","align":"left","baseline":"middle"},"encoding":{"text":{"field":"label"},"x":{"datum":74,"type":"quantitative","scale":{"domain":[0,1948],"nice":false},"axis":null},"y":{"datum":614,"type":"quantitative","scale":{"domain":[1128,0],"nice":false},"axis":null}}},
{"data":{"values":[{"badge":"22.40K"}]},"mark":{"type":"rect","fill":"#ef3a47"},"encoding":{"x":{"datum":1812,"type":"quantitative","scale":{"domain":[0,1948],"nice":false},"axis":null},"x2":{"datum":1922},"y":{"datum":626,"type":"quantitative","scale":{"domain":[1128,0],"nice":false},"axis":null},"y2":{"datum":662}}},
{"data":{"values":[{"label":"22.40K"}]},"mark":{"type":"text","font":"Inter","fontSize":22,"color":"#ffffff","align":"left","baseline":"middle"},"encoding":{"text":{"field":"label"},"x":{"datum":1829.5,"type":"quantitative","scale":{"domain":[0,1948],"nice":false},"axis":null},"y":{"datum":645,"type":"quantitative","scale":{"domain":[1128,0],"nice":false},"axis":null}}},
{"data":{"values":[{"label":"USD"}]},"mark":{"type":"text","font":"Inter","fontSize":24,"fontWeight":700,"color":"#808a9d","align":"center","baseline":"middle"},"encoding":{"text":{"field":"label"},"x":{"datum":1868,"type":"quantitative","scale":{"domain":[0,1948],"nice":false},"axis":null},"y":{"datum":1036,"type":"quantitative","scale":{"domain":[1128,0],"nice":false},"axis":null}}},
{"data":{"values":[{"label":"CoinMarketCap"}]},"mark":{"type":"text","font":"Inter","fontSize":29,"fontWeight":600,"color":"#cfd6e4","opacity":0.85,"align":"left","baseline":"middle"},"encoding":{"text":{"field":"label"},"x":{"datum":1546,"type":"quantitative","scale":{"domain":[0,1948],"nice":false},"axis":null},"y":{"datum":797,"type":"quantitative","scale":{"domain":[1128,0],"nice":false},"axis":null}}},
{"data":{"values":[{"icon":"logo"}]},"mark":{"type":"point","shape":"M0.9,0.2 A0.92,0.92 0 1 1 0.35,-0.85 M0.9,0.25 A0.92,0.92 0 0 1 -0.4,0.85 M-0.55,0.4 L-0.2,-0.3 L0.02,0.25 L0.3,-0.35 L0.45,0.05 Q0.55,0.3 0.85,0.2","size":2304,"filled":false,"stroke":"#d1d8e6","strokeWidth":5,"strokeCap":"round","opacity":0.95},"encoding":{"x":{"datum":1507,"type":"quantitative","scale":{"domain":[0,1948],"nice":false},"axis":null},"y":{"datum":793,"type":"quantitative","scale":{"domain":[1128,0],"nice":false},"axis":null}}},
{"data":{"values":[{"handle":"left"}]},"mark":{"type":"rect","fill":"#ffffff","cornerRadius":11,"stroke":"#eceff4","strokeWidth":1},"encoding":{"x":{"datum":58,"type":"quantitative","scale":{"domain":[0,1948],"nice":false},"axis":null},"x2":{"datum":79},"y":{"datum":1086,"type":"quantitative","scale":{"domain":[1128,0],"nice":false},"axis":null},"y2":{"datum":1125}}},
{"data":{"values":[{"handle":"right"}]},"mark":{"type":"rect","fill":"#ffffff","cornerRadius":11,"stroke":"#eceff4","strokeWidth":1},"encoding":{"x":{"datum":1798,"type":"quantitative","scale":{"domain":[0,1948],"nice":false},"axis":null},"x2":{"datum":1819},"y":{"datum":1086,"type":"quantitative","scale":{"domain":[1128,0],"nice":false},"axis":null},"y2":{"datum":1125}}},
{"data":{"values":[{"grip":"l1"}]},"mark":{"type":"rule","color":"#a6b0c3","strokeWidth":1.2},"encoding":{"x":{"datum":66.5,"type":"quantitative","scale":{"domain":[0,1948],"nice":false},"axis":null},"y":{"datum":1098,"type":"quantitative","scale":{"domain":[1128,0],"nice":false},"axis":null},"y2":{"datum":1112}}},
{"data":{"values":[{"grip":"l2"}]},"mark":{"type":"rule","color":"#a6b0c3","strokeWidth":1.2},"encoding":{"x":{"datum":70.5,"type":"quantitative","scale":{"domain":[0,1948],"nice":false},"axis":null},"y":{"datum":1098,"type":"quantitative","scale":{"domain":[1128,0],"nice":false},"axis":null},"y2":{"datum":1112}}},
{"data":{"values":[{"grip":"r1"}]},"mark":{"type":"rule","color":"#a6b0c3","strokeWidth":1.2},"encoding":{"x":{"datum":1806.5,"type":"quantitative","scale":{"domain":[0,1948],"nice":false},"axis":null},"y":{"datum":1098,"type":"quantitative","scale":{"domain":[1128,0],"nice":false},"axis":null},"y2":{"datum":1112}}},
{"data":{"values":[{"grip":"r2"}]},"mark":{"type":"rule","color":"#a6b0c3","strokeWidth":1.2},"encoding":{"x":{"datum":1810.5,"type":"quantitative","scale":{"domain":[0,1948],"nice":false},"axis":null},"y":{"datum":1098,"type":"quantitative","scale":{"domain":[1128,0],"nice":false},"axis":null},"y2":{"datum":1112}}}
]}
],
"resolve":{"scale":{"x":"independent","y":"independent"},"axis":{"x":"independent","y":"independent"}}}
